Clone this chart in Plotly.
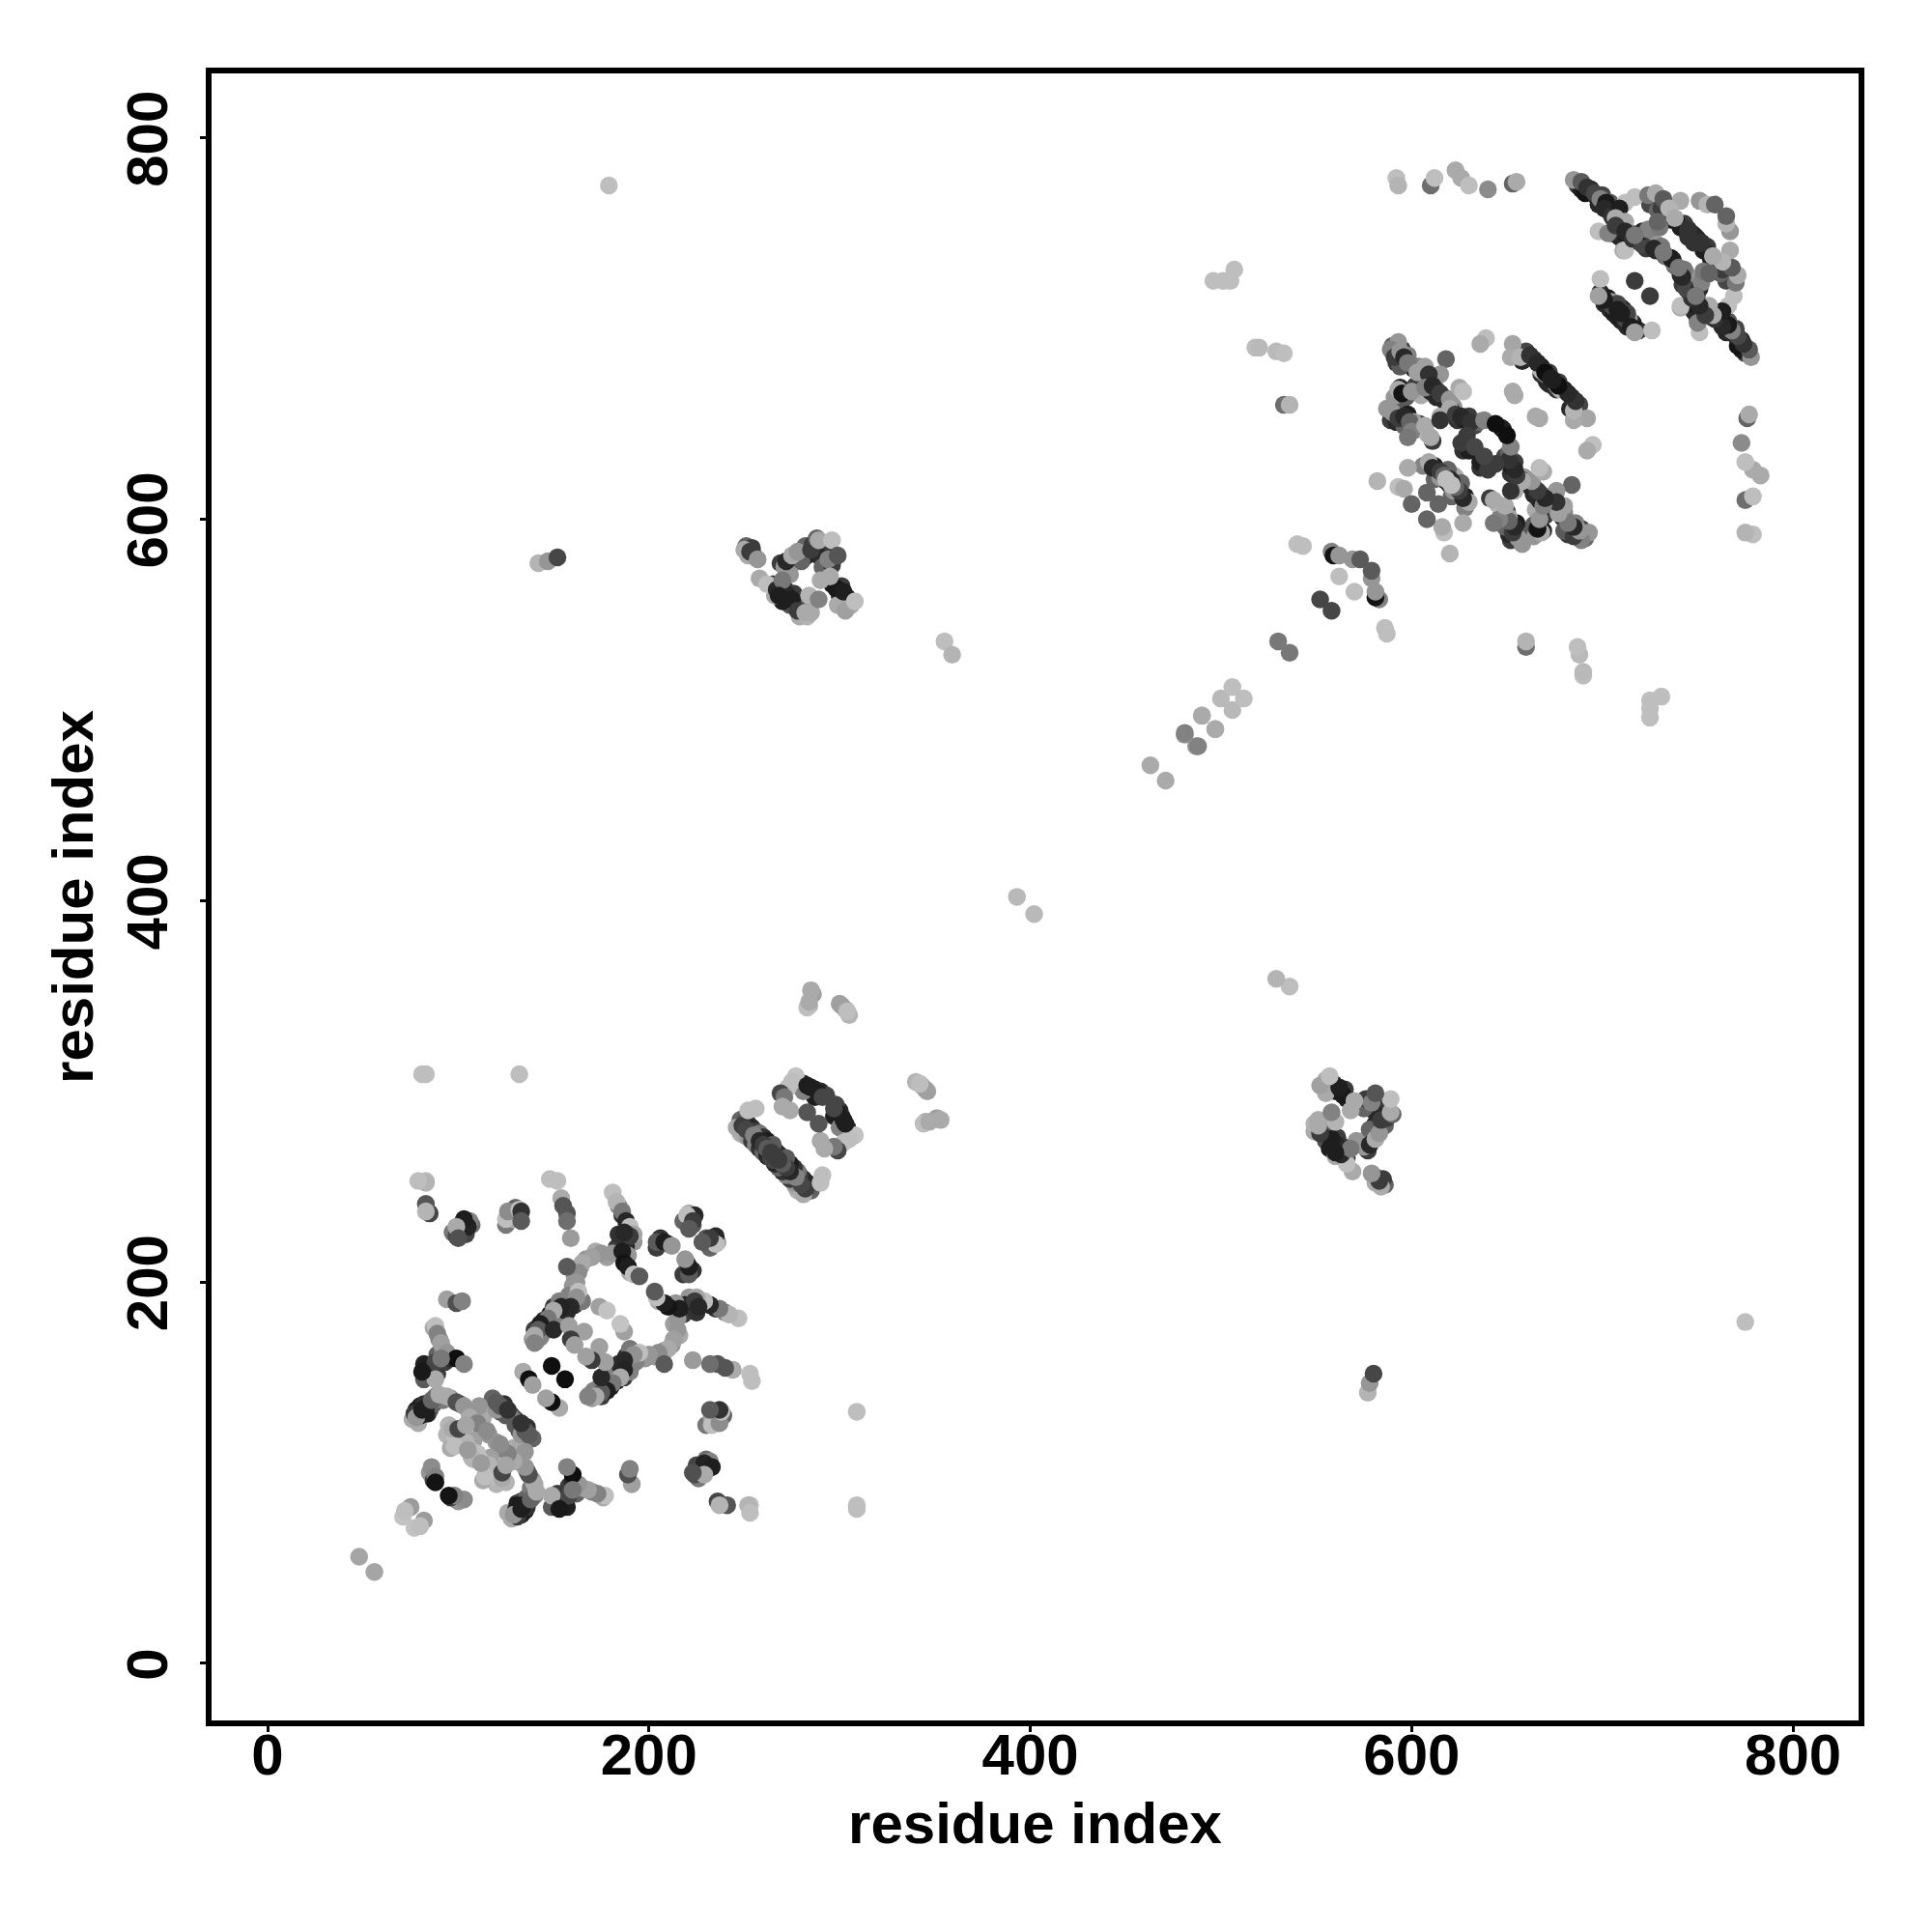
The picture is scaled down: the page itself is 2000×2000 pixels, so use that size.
import plotly.graph_objects as go

# (residue i, residue j, shade) contacts; the map is symmetric
near_n_term = [(48,56,165),(75,82,155),(71,77,195),(72,80,190)]
domain1_far = [(100,228,60),(104,225,70),(107,230,110),(102,231,40),(97,226,120),(125,230,120),(128,236,190),(129,233,170),(130,239,100),(130,235,60),
 (204,218,60),(206,223,50),(210,220,100),(223,230,90),(218,232,100),(221,236,170),(224,235,40),
 (184,240,130),(186,235,50),(190,226,170),(192,221,150),
 (83,253,190),(83,252,180),(79,253,190),(83,241,85),(85,236,70),(83,237,180),
 (99,224,75),(101,227,100),(106,232,130),(105,229,35),(103,233,30),(99,229,170),(100,223,80),
 (125,233,190),(126,237,140),(132,238,190),(133,237,50),(133,232,90),
 (148,254,190),(152,253,190),(154,244,170),(155,240,85),(157,236,85),(157,232,110),(159,223,155),
 (181,247,190),(183,242,180),(186,237,120),(188,232,40),(190,229,190),(192,225,165),(186,221,40),(185,217,50),(189,222,170),
 (220,235,190),(223,232,60),(221,228,90),(204,221,90),(208,221,30),(212,219,150)]
domain1_ring = [(140,175,60),(145,180,40),(148,183,30),(150,187,60),(152,183,50),(155,187,30),(157,184,50),(160,190,100),(144,173,100),(139,170,150),(141,169,170),(147,176,120),(152,180,130),(158,190,170),(161,188,60),(153,190,130),(146,178,60),(143,171,130),
 (185,222,30),(183,218,60),(188,219,40),(190,224,60),(184,225,50),(187,226,40),(187,213,30),(190,205,170),(189,214,150),
 (172,216,170),(178,213,160),(167,212,150),(164,208,130),(161,203,150),(160,198,150),(165,190,120),(158,193,130),
 (181,215,150),(175,215,150),(170,213,160),(165,210,170),(163,205,140),(162,200,150),(163,195,190),(162,192,145),
 (159,187,40),(156,185,40),(154,187,35),(150,185,170),(147,181,120),(143,178,30),(142,175,90),(140,172,170),(140,168,130),(150,175,40),(157,208,90),
 (186,216,30),(187,210,20),(189,208,30),(192,204,190),(195,203,90),(174,187,160),(178,185,195),
 (158,177,160),(166,174,160),(159,170,60),(161,167,160),(134,153,170),(137,149,15),(139,146,160),(149,156,15)]
domain1_near = [(85,155,20),(84,152,30),(82,157,35),(87,154,30),(89,152,60),(86,150,40),(89,162,100),(93,158,60),(90,170,130),(92,165,150),(96,160,40),(87,176,170),(84,150,170),(82,149,90),
 (76,128,170),(78,133,30),(80,135,30),(82,136,50),(84,131,40),(85,133,70),(87,136,100),(79,126,170),(77,131,60),(88,140,130),(92,138,120),(96,139,150),(101,136,100),(105,133,170),(108,128,150),(112,124,140),(113,129,170),(108,132,160),(116,120,150),
 (118,139,100),(122,132,60),(124,136,50),(128,130,70),(130,127,130),(125,130,90),(120,133,150),
 (94,120,180),(98,118,190),(102,119,180),(95,125,180),(101,115,170),(108,117,160),(110,110,190),(112,106,190),(104,116,180),(107,108,180),(96,113,170),
 (85,100,150),(87,96,60),
 (94,191,160),(99,189,80),(102,190,130),
 (88,177,190),(89,173,130),(91,168,160),(94,163,150),(99,160,15),(103,157,130),(83,156,30),(86,156,30),(88,158,70),(88,149,170),(81,153,25),(91,160,120),
 (80,130,30),(83,131,30),(78,129,150),(81,133,30),(83,134,30),(86,138,100),(90,141,170),(94,140,170),(99,137,80),(103,135,150),(111,135,150),(106,129,170),(110,126,130),(115,122,140),
 (120,137,90),(122,135,90),(126,133,50),(97,123,170),(100,123,70),(104,125,165),(98,114,190),(105,112,155),(86,103,140),(88,98,130),(88,95,20)]
domain2 = [(248,285,100),(250,284,90),(252,283,50),(254,281,40),(256,279,60),(258,278,120),(260,276,50),(262,274,30),(248,278,180),(250,277,170),(252,276,150),(254,274,60),(256,272,130),(258,270,50),(260,268,100),(262,266,40),(264,265,70),(266,269,50),(268,267,40),(265,272,90),
 (281,304,40),(283,301,20),(287,301,25),(290,300,40),(293,298,70),(287,297,30),(281,300,130),
 (246,281,170),(249,282,60),(251,280,70),(255,277,130),(258,274,40),(260,272,60),(262,270,90),(264,268,60),(266,266,60),
 (256,291,190),(252,290,190),(277,308,195),(275,305,190),(273,302,190),(269,299,70),(271,297,120),(274,290,170),(270,292,170),
 (283,303,30),(285,302,30),(289,299,30),(291,297,70),(283,289,85)]
domain2_links = [(303,343,170),(301,345,150),(305,340,180),(286,351,160),(284,345,170),(283,344,190),
 (285,353,170),(284,347,170),(300,346,160),(304,342,190),(83,309,190),(81,309,190),(132,309,190),
 (179,775,190),(142,577,180),(147,578,150),(152,580,70),(355,536,190),(359,529,180)]
inter_cluster = [(251,586,100),(255,581,60),(252,581,170),(254,585,60),
 (265,566,60),(269,561,30),(271,564,60),(273,558,40),(277,556,30),(274,555,80),(279,549,170),(281,554,90),(283,549,180),(270,557,30),(266,560,170),(276,561,60),
 (296,566,30),(300,560,40),(304,559,30),(306,555,170),(301,565,60),(305,556,150),(299,555,170),
 (282,586,100),(286,587,60),(291,586,130),(292,583,60),(290,580,40),(291,575,100),(283,581,40),(296,576,60),
 (269,577,60),(271,575,150),(274,575,170),(280,578,100),
 (250,584,170),(253,583,60),(257,579,150),(258,569,170),(262,566,190),(267,563,40),(272,561,40),(275,558,30),(278,552,60),(282,551,170),(285,551,170),
 (274,571,150),(272,578,40),(275,581,170),(278,583,150),(285,584,60),(288,590,100),(289,589,170),(296,589,190),(294,579,130),(299,581,85),
 (298,564,25),(302,562,30),(303,552,160),(308,557,190),(290,568,170),(295,570,170),(284,560,180),(289,558,130),(270,568,120),(268,560,30)]
linker = [(393,402,185),(463,471,170),(481,487,145),(488,481,130),(490,497,165),(497,490,170),(500,506,185),(506,512,190),
 (530,536,120),(540,587,190),(543,586,190),(558,583,130),(559,581,20),(562,581,150),(569,579,150),(573,579,90),(562,570,190),(552,558,70)]
domain3_far = [(496,725,190),(501,725,190),(505,725,190),(507,731,190),(518,690,190),(520,690,185),(529,688,185),(533,687,190),(533,660,110),(536,660,180),
 (592,779,190),(593,775,180),(610,775,110),(612,779,190),(623,783,170),(626,779,170),(630,775,190),(640,773,140),(653,776,100),(655,777,170)]
domain3 = [(590,691,100),(592,688,40),(595,689,60),(597,684,30),(600,681,100),(598,686,130),(601,679,40),(605,677,170),(604,680,130),(592,682,60),(594,680,90),
 (591,664,150),(594,669,40),(597,664,90),(602,670,60),(605,665,170),(610,667,30),(613,668,90),(613,664,40),(617,664,100),(618,661,40),(622,659,150),
 (589,652,60),(592,651,40),(594,656,90),(598,655,30),(596,649,100),(602,647,90),(604,650,70),(608,645,180),(611,641,60),(601,651,160),
 (621,657,40),(624,652,50),(628,652,30),(630,654,60),(633,649,70),(635,651,100),(627,636,50),(630,636,30),(647,648,30),
 (655,688,100),(658,683,40),(660,688,70),(664,684,50),(668,680,30),(672,677,60),(668,676,50),(674,670,60),(671,672,40),(676,670,110),(678,668,180),
 (612,628,30),(614,622,60),(618,620,40),(612,621,100),(606,628,130),(622,623,170),(619,626,100),(622,615,150),
 (593,693,150),(589,689,130),(591,685,60),(594,688,150),(596,685,40),(598,682,120),(603,677,160),(607,680,160),(618,684,100),(615,676,150),(609,676,50),
 (593,668,170),(595,666,20),(600,667,150),(607,669,130),(611,670,40),(615,666,60),(620,663,150),(625,669,170),(627,667,190),(620,658,170),
 (587,658,150),(590,656,150),(593,653,60),(596,654,40),(599,651,100),(600,646,130),(607,649,170),(610,643,170),(615,654,170),(615,652,50),(598,643,120),
 (623,655,60),(626,654,40),(631,651,50),(638,652,130),(644,650,15),(626,640,60),(629,644,60),(633,638,70),
 (639,695,190),(636,692,170),(653,692,165),(652,685,170),(657,685,180),(662,686,50),(666,682,40),(670,677,15),(673,674,30),(653,667,170),(654,665,170),
 (598,627,170),(582,620,180),(593,617,190),(596,616,170),(608,614,100),(600,608,100),
 (609,630,170),(611,627,40),(615,625,60),(617,623,100),(620,621,40),(621,618,190)]
domain4 = [(687,775,60),(689,773,30),(691,771,20),(694,773,40),(697,769,30),(698,765,40),(700,770,70),(703,762,30),(704,766,90),(706,762,60),(706,757,120),
 (705,750,60),(709,748,40),(711,752,70),(713,747,30),(715,750,100),(718,746,30),(720,748,60),(723,742,60),(726,745,130),(729,744,150),(731,743,120),(733,738,100),(735,737,130),(737,736,30),
 (734,760,60),(736,757,40),(741,753,30),(743,755,60),(747,750,60),(749,748,40),(745,748,50),(752,745,60),(725,765,70),(729,762,100),(731,763,60),(735,760,40),
 (699,719,50),(701,713,40),(703,716,30),(704,710,40),(707,711,50),(708,706,30),(712,706,130),(714,705,150),(711,710,40),(713,708,70),
 (685,778,150),(689,777,90),(692,774,50),(696,771,70),(699,768,130),(702,766,25),(701,763,40),(705,759,50),
 (717,769,190),(712,766,190),(709,763,30),(724,770,120),(728,771,170),(732,768,90),(741,767,170),(735,763,180),(707,758,170),(712,756,170),
 (698,751,190),(703,750,130),(711,741,170),(712,741,190),(707,754,60),(712,751,40),(716,747,50),(721,744,70),(727,742,40),(728,741,40),(732,740,120),
 (721,751,40),(724,752,130),(717,749,120),(730,753,120),(729,756,100),(739,756,30),(745,752,50),(738,758,170),(751,767,150),(755,765,180),(759,765,100),
 (699,726,190),(717,725,60),(705,712,70),(701,715,30),(698,717,160),(710,708,30)]

regions = [near_n_term, domain1_far, domain1_ring, domain1_near, domain2, domain2_links,
           inter_cluster, linker, domain3_far, domain3, domain4]
tick_values = [0, 200, 400, 600, 800]
axis_title = "residue index"

xs, ys, colors = [], [], []
for region in regions:
    for i, j, shade in region:
        for a, b in ((i, j), (j, i)):
            xs.append(a); ys.append(b); colors.append(f"rgb({shade},{shade},{shade})")

fig = go.Figure(go.Scatter(x=xs, y=ys, mode="markers", hoverinfo="skip",
                           marker=dict(size=18.5, color=colors, line=dict(width=0))))
font = dict(family="Liberation Sans", size=60, color="black", weight="bold")
axis = dict(tickvals=tick_values, ticks="outside", ticklen=6, tickwidth=3, tickcolor="black",
            showline=True, linewidth=6, linecolor="black", mirror=True, showgrid=False, zeroline=False,
            tickfont=font, title=dict(text=axis_title, font=font))
fig.update_layout(width=2000, height=2000, margin=dict(l=219, r=76, t=76, b=219, pad=0),
                  plot_bgcolor="white", paper_bgcolor="white", showlegend=False,
                  xaxis=dict(axis, range=[-29.4, 834.4], ticklabelstandoff=-28),
                  yaxis=dict(axis, range=[-29.9, 833.8], tickangle=-90, ticklabelstandoff=10, ticklabelshift=10))
fig.update_xaxes(title_standoff=19)
fig.update_yaxes(title_standoff=5)
fig.write_html("out.html", config=dict(displayModeBar=False), post_script="document.body.style.margin='0';")
